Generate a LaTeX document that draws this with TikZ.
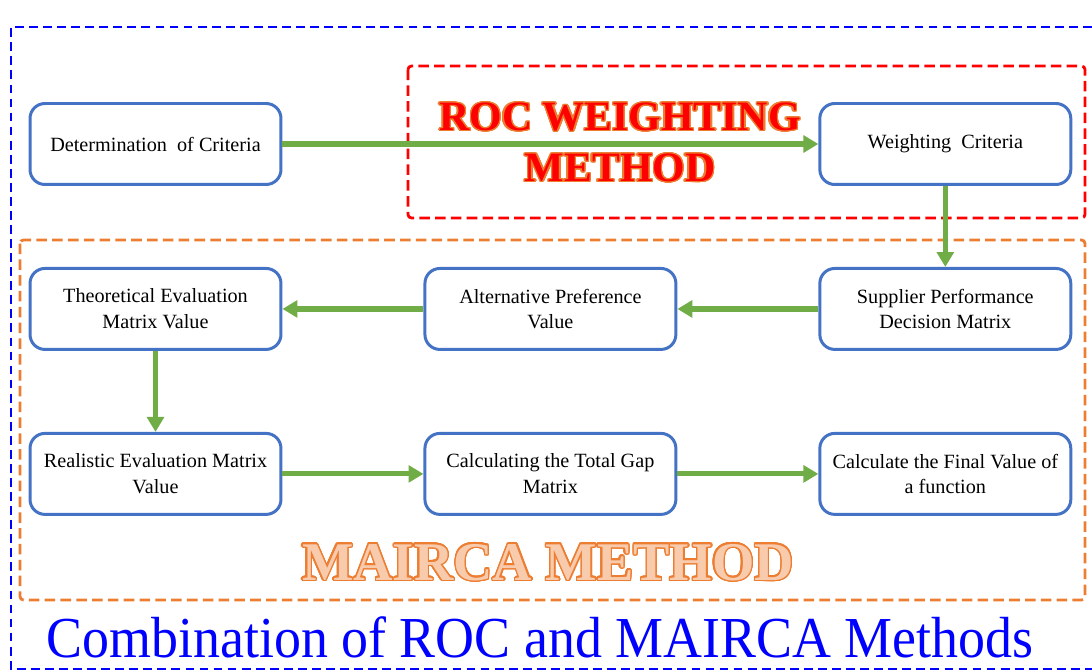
\documentclass[tikz,border=0pt]{standalone}
\usepackage{fontspec}
\setmainfont{Liberation Serif}
\usepackage{contour}
\usetikzlibrary{arrows.meta,positioning}
\definecolor{boxblue}{HTML}{4472C4}
\definecolor{flowgreen}{HTML}{70AD47}
\definecolor{maircaorange}{HTML}{ED7D31}
\definecolor{maircalight}{HTML}{F8CBAD}
\contourlength{0.8pt}
\contournumber{24}

\begin{document}
\begin{tikzpicture}[x=0.02cm, y=-0.02cm, >={Triangle[length=8.5pt,width=9.5pt]}, node distance=1.62cm and 2.82cm]
	\tikzstyle{stepbox}=[draw=boxblue,line width=1.7pt,rounded corners=8.5pt,fill=white,minimum width=5.02cm,minimum height=1.62cm,align=center,font=\fontsize{11.5}{14.7}\selectfont]
	\tikzstyle{flow}=[->,draw=flowgreen,line width=2.9pt]
	\tikzstyle{frame}=[line width=1.6pt,dash pattern=on 6pt off 3pt]
	\useasboundingbox (0,0) rectangle (1092,672);
	\draw[blue,line width=1.1pt,dash pattern=on 5pt off 3pt] (1092,27) -- (11,27) -- (11,669) -- (1092,669);
	\draw[frame,red,rounded corners=2pt] (408,66) rectangle (1085,218);
	\draw[frame,maircaorange,rounded corners=2pt] (20,240) rectangle (1085,600);
	\node[stepbox]    (crit) at (155.5,144)  {Determination\ \ of Criteria};
	\node[stepbox]    (theo)[below=of crit]  {Theoretical Evaluation\\Matrix Value};
	\node[stepbox]    (alt)[right=of theo]   {Alternative Preference\\Value};
	\node[stepbox]    (supp)[right=of alt]   {Supplier Performance\\Decision Matrix};
	\node[stepbox]    (weight)[above=of supp]{Weighting\ \ Criteria};
	\node[stepbox]    (real)[below=of theo]  {Realistic Evaluation Matrix\\Value};
	\node[stepbox]    (gap)[right=of real]   {Calculating the Total Gap\\Matrix};
	\node[stepbox]    (final)[right=of gap]  {Calculate the Final Value of\\a function};
	\node[font=\fontsize{23.8}{29}\selectfont\bfseries,align=center] (roc) at (620,143)
		{\contour{maircaorange}{\textcolor{red}{ROC WEIGHTING}}\\\contour{maircaorange}{\textcolor{red}{METHOD}}};
	\node[font=\fontsize{31}{36}\selectfont\bfseries] (mairca) at (548,563)
		{\contour{maircaorange}{\textcolor{maircalight}{MAIRCA METHOD}}};
	\node[text=blue,font=\fontsize{33}{40}\selectfont,anchor=base] (title) at (540,657)
		{\scalebox{0.93}[1]{Combination of ROC and MAIRCA Methods}};
	\path
	(crit)	edge[flow]	(weight)
	(weight)	edge[flow]	(supp)
	(supp)	edge[flow]	(alt)
	(alt)	edge[flow]	(theo)
	(theo)	edge[flow]	(real)
	(real)	edge[flow]	(gap)
	(gap)	edge[flow]	(final);
\end{tikzpicture}
\end{document}
